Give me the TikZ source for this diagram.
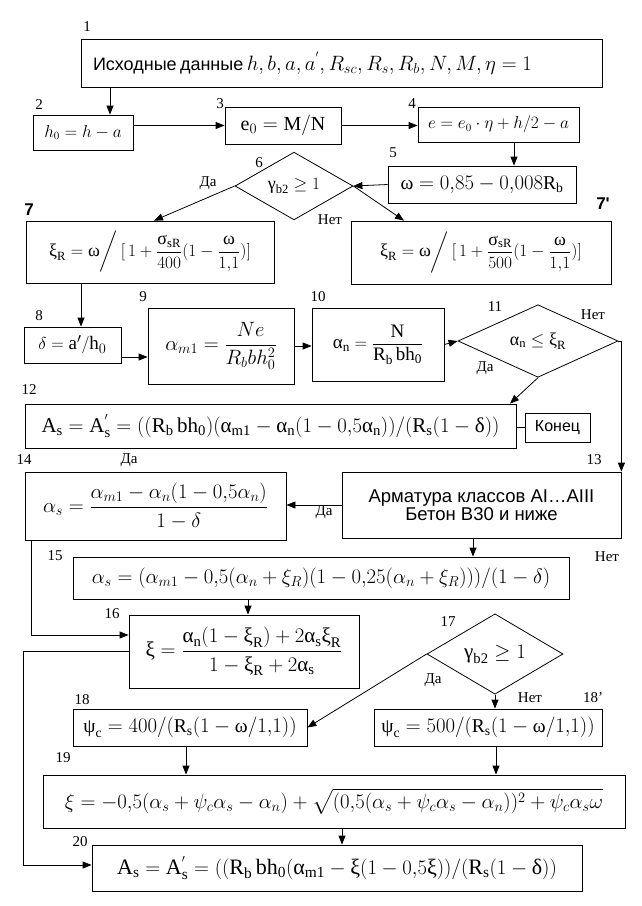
\documentclass[tikz,border=0pt]{standalone}
\usepackage{amsmath}
\usepackage{fontspec}
\setmainfont{Liberation Serif}
\newfontfamily\arial{Liberation Sans}
\usetikzlibrary{arrows.meta,shapes.geometric}

\newcommand{\fsz}[1]{\fontsize{#1}{#1}\selectfont}
\newcommand{\ualpha}{\text{α}}
\newcommand{\uxi}{\text{ξ}}
\newcommand{\uomega}{\text{ω}}
\newcommand{\ugamma}{\text{γ}}
\newcommand{\usigma}{\text{σ}}
\newcommand{\udelta}{\text{δ}}
\newcommand{\upsi}{\text{ψ}}

\begin{document}
\begin{tikzpicture}[x=1pt,y=-1pt,
  box/.style={draw,line width=0.8pt,inner sep=0pt,align=center},
  dia/.style={draw,diamond,line width=0.8pt,inner sep=0pt},
  num/.style={font=\fsz{15}\rmfamily,inner sep=0pt},
  bnum/.style={font=\fsz{17}\arial\bfseries,inner sep=0pt},
  arr/.style={line width=0.8pt,-{Triangle[length=9pt,width=7pt]}}]

\useasboundingbox (0,0) rectangle (641,906);

% blocks
\node[box,minimum width=521pt,minimum height=48pt,text width=497pt,inner xsep=12pt,align=left] (b1) at (341.5,63)
  {{\fsz{18}\arial Исходные данные} \fsz{20}$h,b,a,a^{'},R_{sc},R_s,R_b,N,M,\eta=1$};
\node[box,minimum width=100pt,minimum height=35pt,font=\fsz{16}] (b2) at (83,132.5) {$h_0=h-a$};
\node[box,minimum width=116pt,minimum height=37pt,font=\fsz{20}] (b3) at (283,125.5) {$\mathrm{e}_0=\mathrm{M/N}$};
\node[box,minimum width=161pt,minimum height=35pt,font=\fsz{16}] (b4) at (498.5,124.5) {$e=e_0\cdot\eta+h/2-a$};
\node[box,minimum width=188pt,minimum height=37pt,font=\fsz{19.5}] (b5) at (482,184.5) {$\uomega=0{,}85-0{,}008\mathrm{R_b}$};
\node[dia,minimum width=118pt,minimum height=64pt,font=\fsz{18}] (d6) at (294,186) {$\ugamma_{\mathrm{b2}}\geq 1$};
\node[box,minimum width=248pt,minimum height=62pt,font=\fsz{18}] (b7) at (150,252)
  {$\uxi_{\mathrm R}=\uomega\bigg/\,[\,1+\dfrac{\usigma_{\mathrm{sR}}}{400}(1-\dfrac{\uomega}{1{,}1})]$};
\node[box,minimum width=260pt,minimum height=63pt,font=\fsz{18}] (b7p) at (481,252.5)
  {$\uxi_{\mathrm R}=\uomega\bigg/\,[\,1+\dfrac{\usigma_{\mathrm{sR}}}{500}(1-\dfrac{\uomega}{1{,}1})]$};
\node[box,minimum width=97pt,minimum height=36pt,font=\fsz{19}] (b8) at (72.5,345) {$\delta=\mathrm{a}'/\mathrm{h}_0$};
\node[box,minimum width=146pt,minimum height=76pt,font=\fsz{20}] (b9) at (221,346) {$\alpha_{m1}=\dfrac{Ne}{R_bbh_0^2}$};
\node[box,minimum width=132pt,minimum height=73pt,font=\fsz{19}] (b10) at (378,344.5) {$\ualpha_{\mathrm n}=\dfrac{\mathrm N}{\mathrm{R_b\,bh_0}}$};
\node[dia,minimum width=160pt,minimum height=66pt,font=\fsz{18}] (d11) at (538,341) {$\ualpha_{\mathrm n}\leq\uxi_{\mathrm R}$};
\node[box,minimum width=491pt,minimum height=44pt,font=\fsz{21}] (b12) at (270.5,426)
  {$\mathrm{A_s}=\mathrm{A_s^{'}}=((\mathrm{R_b\,bh_0})(\ualpha_{\mathrm{m1}}-\ualpha_{\mathrm n}(1-0{,}5\ualpha_{\mathrm n}))/(\mathrm{R_s}(1-\udelta))$};
\node[box,minimum width=65pt,minimum height=29pt,font=\fsz{16}\arial] (fin) at (557.5,427.5) {Конец};
\node[box,minimum width=279pt,minimum height=66pt,font=\fsz{18.5}\arial] (b13) at (481.5,505)
  {Арматура классов AI…AIII\\Бетон В30 и ниже};
\node[box,minimum width=261pt,minimum height=68pt,font=\fsz{20}] (b14) at (155.5,506)
  {$\alpha_s=\dfrac{\alpha_{m1}-\alpha_n(1-0{,}5\alpha_n)}{1-\delta}$};
\node[box,minimum width=496pt,minimum height=42pt,font=\fsz{21}] (b15) at (321,578)
  {$\alpha_s=(\alpha_{m1}-0{,}5(\alpha_n+\xi_R)(1-0{,}25(\alpha_n+\xi_R)))/(1-\delta)$};
\node[box,minimum width=230pt,minimum height=73pt,font=\fsz{21}] (b16) at (244,651.5)
  {$\uxi=\dfrac{\ualpha_{\mathrm n}(1-\uxi_{\mathrm R})+2\ualpha_{\mathrm s}\uxi_{\mathrm R}}{1-\uxi_{\mathrm R}+2\ualpha_{\mathrm s}}$};
\node[dia,minimum width=136pt,minimum height=78pt,font=\fsz{21}] (d17) at (495,654) {$\ugamma_{\mathrm{b2}}\geq 1$};
\node[box,minimum width=234pt,minimum height=37pt,font=\fsz{19.5}] (b18) at (190,727.5)
  {$\upsi_{\mathrm c}=400/(\mathrm{R_s}(1-\uomega/1{,}1))$};
\node[box,minimum width=228pt,minimum height=37pt,font=\fsz{19.5}] (b18p) at (488,727.5)
  {$\upsi_{\mathrm c}=500/(\mathrm{R_s}(1-\uomega/1{,}1))$};
\node[box,minimum width=582pt,minimum height=53pt,font=\fsz{21.5}] (b19) at (334,801.5)
  {$\xi=-0{,}5(\alpha_s+\psi_c\alpha_s-\alpha_n)+\sqrt{(0{,}5(\alpha_s+\psi_c\alpha_s-\alpha_n))^2+\psi_c\alpha_s\omega}$};
\node[box,minimum width=490pt,minimum height=46pt,font=\fsz{22}] (b20) at (337,868)
  {$\mathrm{A_s}=\mathrm{A_s^{'}}=((\mathrm{R_b\,bh_0}(\ualpha_{\mathrm{m1}}-\uxi(1-0{,}5\uxi))/(\mathrm{R_s}(1-\udelta))$};

% block numbers
\node[num] (n1) at (87,27) {1};
\node[num] (n2) at (39,105) {2};
\node[num] (n3) at (220,104) {3};
\node[num] (n4) at (412,104) {4};
\node[num] (n5) at (393,153) {5};
\node[num] (n6) at (259,163) {6};
\node[bnum] (n7) at (29,210) {7};
\node[bnum] (n7p) at (603,204) {7'};
\node[num] (n8) at (39,316) {8};
\node[num] (n9) at (143,297) {9};
\node[num] (n10) at (318,297) {10};
\node[num] (n11) at (495,307) {11};
\node[num] (n12) at (29,390) {12};
\node[num] (n13) at (594,460) {13};
\node[num] (n14) at (24,460) {14};
\node[num] (n15) at (55,556) {15};
\node[num] (n16) at (112,614) {16};
\node[num] (n17) at (448,622) {17};
\node[num] (n18) at (82,700) {18};
\node[num] (n18p) at (593,698) {18'};
\node[num] (n19) at (63,758) {19};
\node[num] (n20) at (80,842) {20};

% yes / no
\node[num] (y6) at (208,183) {Да};
\node[num] (no6) at (330,220) {Нет};
\node[num] (no11) at (593,315) {Нет};
\node[num] (y11) at (485,368) {Да};
\node[num] (y14) at (129,460) {Да};
\node[num] (y13) at (324,512) {Да};
\node[num] (no13) at (607,557) {Нет};
\node[num] (y17) at (433,680) {Да};
\node[num] (no17) at (530,698) {Нет};

% connectors
\draw[arr] ([xshift=-231.5pt]b1.south) -- ([xshift=27pt]b2.north);
\draw[arr] (b2.east |- b3.west) -- (b3.west);
\draw[arr] (b3.east) -- (b4.west |- b3.east);
\draw[arr] ([xshift=15.5pt]b4.south) -- ([xshift=32pt]b5.north);
\draw[arr] (b5.west) -- (d6.east);
\draw[arr] (d6.west) -- ([xshift=4pt]b7.north);
\draw[arr] (d6.east) -- ([xshift=-77pt]b7p.north);
\draw[arr] ([xshift=-69pt]b7.south) -- ([xshift=8.5pt]b8.north);
\draw[arr] ([yshift=-12pt]b8.east) -- ([yshift=-11pt]b9.west);
\draw[arr] (b9.east) -- (b10.west |- b9.east);
\draw[arr] (b10.east) -- (d11.west);
\draw[arr] (d11.south) -- ([xshift=239.5pt]b12.north);
\draw[arr] (d11.east) -| (b13.north east);
\draw (b12.east |- fin.west) -- (fin.west);
\draw[arr] (b13.west) -- (b14.east |- b13.west);
\draw[arr] ([xshift=-8.5pt]b13.south) -- ([xshift=152pt]b15.north);
\draw[arr] ([xshift=-73pt]b15.south) -- ([xshift=4pt]b16.north);
\draw[arr] ([xshift=7pt]b14.south west) |- ([yshift=16.5pt]b16.west);
\draw[arr] (b16.west) -- ++(-105,0) |- ([yshift=3pt]b20.west);
\draw[arr] (d17.west) -- (b18.east);
\draw[arr] (d17.south) -- ([xshift=7pt]b18p.north);
\draw[arr] ([xshift=-4pt]b18.south) -- ([xshift=-148pt]b19.north);
\draw[arr] ([xshift=8pt]b18p.south) -- ([xshift=162pt]b19.north);
\draw[arr] ([xshift=8pt]b19.south) -- ([xshift=5pt]b20.north);

\end{tikzpicture}
\end{document}
